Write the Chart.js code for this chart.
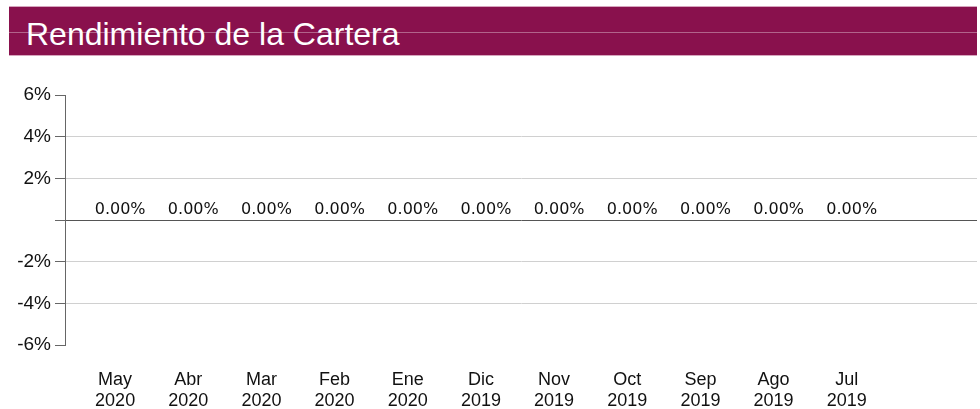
<!DOCTYPE html>
<html>
<head>
<meta charset="utf-8">
<script src="https://cdn.jsdelivr.net/npm/chart.js@4/dist/chart.umd.min.js"></script>
<style>
  html, body { margin: 0; padding: 0; background: #fff; }
  body { width: 980px; height: 409px; position: relative; overflow: hidden; font-family: "Liberation Sans", Arial, sans-serif; }
  .banner {
    position: absolute; left: 9px; top: 6px; width: 968px; height: 50px;
    background: #89114d; border-top: 1px solid #d6a5bd; border-bottom: 1px solid #d6a5bd;
    box-sizing: border-box;
  }
  .banner::before {
    content: ""; position: absolute; left: 0; right: 0; top: 25px; height: 1px;
    background: rgba(255,255,255,0.35);
  }
  .banner h1 {
    position: relative; margin: 0; padding: 3px 0 0 17px; line-height: 48px;
    color: #fff; font-weight: normal; font-size: 32px;
  }
  .chart-box { position: absolute; left: 0; top: 60px; width: 980px; height: 349px; }
</style>
</head>
<body>
<div class="banner"><h1>Rendimiento de la Cartera</h1></div>
<div class="chart-box"><canvas id="chart"></canvas></div>
<script>
const months = ["May", "Abr", "Mar", "Feb", "Ene", "Dic", "Nov", "Oct", "Sep", "Ago", "Jul"]
const years = ["2020", "2020", "2020", "2020", "2020", "2019", "2019", "2019", "2019", "2019", "2019"]
const returns = [0, 0, 0, 0, 0, 0, 0, 0, 0, 0, 0]
const yTicks = [-6, -4, -2, 0, 2, 4, 6]

// draws the "0.00%" text above each bar
const valueLabels = {
  id: "valueLabels",
  afterDatasetsDraw(chart) {
    const ctx = chart.ctx
    const meta = chart.getDatasetMeta(0)
    ctx.save()
    ctx.font = "16px 'DejaVu Sans', sans-serif"
    ctx.fillStyle = "#111"
    ctx.textAlign = "center"
    ctx.textBaseline = "bottom"
    meta.data.forEach((bar, i) => {
      const v = returns[i]
      ctx.fillText(v.toFixed(2) + "%", bar.x + 5, bar.y - 2)
    })
    ctx.restore()
  },
}

new Chart(document.getElementById("chart"), {
  type: "bar",
  data: {
    datasets: [
      {
        data: returns.map((v, i) => ({ x: i, y: v })),
        backgroundColor: "#89114d",
        barPercentage: 0.6,
      },
    ],
  },
  options: {
    responsive: true,
    maintainAspectRatio: false,
    animation: false,
    layout: { padding: { top: 35, right: 3, left: 0, bottom: 0 } },
    plugins: {
      legend: { display: false },
      tooltip: { enabled: false },
    },
    scales: {
      x: {
        type: "linear",
        offset: false,
        min: -0.685,
        max: 11.78,
        afterBuildTicks: (axis) => {
          axis.ticks = months.map((_, i) => ({ value: i }))
        },
        afterFit: (axis) => {
          axis.height = 64
        },
        grid: { display: false },
        border: { display: false },
        ticks: {
          autoSkip: false,
          maxRotation: 0,
          padding: 16,
          color: "#111",
          font: { family: "'Liberation Sans', Arial, sans-serif", size: 18 },
          callback: (v) => [months[v], years[v]],
        },
      },
      y: {
        min: -6,
        max: 6,
        afterBuildTicks: (axis) => {
          axis.ticks = yTicks.map((v) => ({ value: v }))
        },
        afterFit: (axis) => {
          axis.width = 65
        },
        border: { display: true, color: "#666", width: 1 },
        grid: {
          drawTicks: true,
          tickLength: 10,
          tickColor: "#666",
          color: (c) => {
            const v = c.tick && c.tick.value
            if (v === 0) return "#555"
            if (v === 6 || v === -6) return "rgba(0,0,0,0)"
            return "#d0d0d0"
          },
        },
        ticks: {
          padding: 4,
          color: "#111",
          font: { family: "'Liberation Sans', Arial, sans-serif", size: 19 },
          callback: (v) => (v === 0 ? "" : v + "%"),
        },
      },
    },
  },
  plugins: [valueLabels],
})
</script>
</body>
</html>
